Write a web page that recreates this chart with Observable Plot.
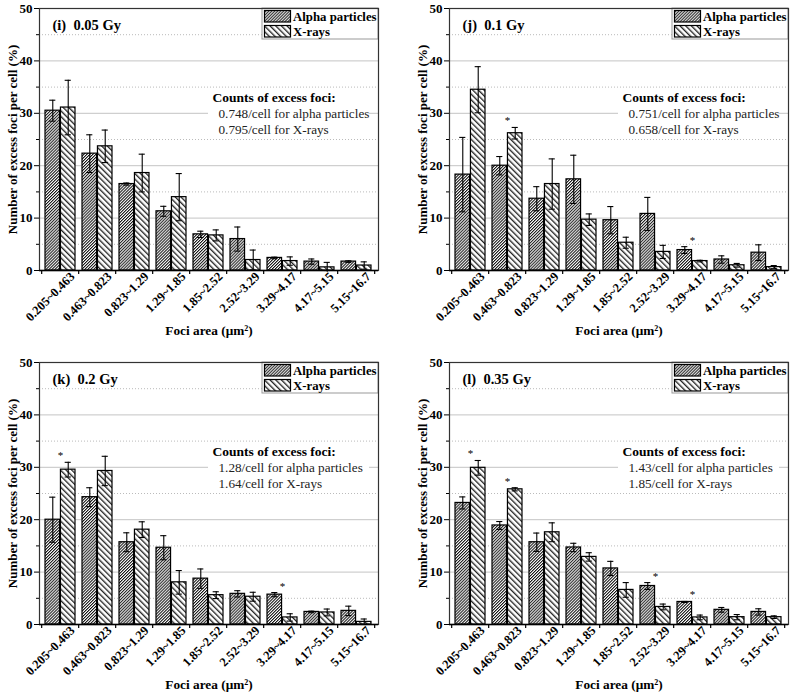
<!DOCTYPE html>
<html><head><meta charset="utf-8">
<script src="https://cdn.jsdelivr.net/npm/d3@7"></script>
<script src="https://cdn.jsdelivr.net/npm/@observablehq/plot@0.6"></script>
<style>
body{margin:0;background:#fff;}
#wrap{position:relative;width:793px;height:694px;overflow:hidden;background:#fff;}
.panel{position:absolute;}
.panel svg{overflow:visible;}
</style></head><body>
<svg width="0" height="0" style="position:absolute">
<defs>
<pattern id="hatchAlpha" patternUnits="userSpaceOnUse" width="2.1" height="10" patternTransform="rotate(45)">
<rect width="2.1" height="10" fill="white"/>
<line x1="0.5" y1="0" x2="0.5" y2="10" stroke="#111" stroke-width="1.05"/>
</pattern>
<pattern id="hatchX" patternUnits="userSpaceOnUse" width="4" height="10" patternTransform="rotate(-45)">
<rect width="4" height="10" fill="white"/>
<line x1="0.7" y1="0" x2="0.7" y2="10" stroke="#111" stroke-width="1.25"/>
</pattern>
</defs>
</svg>
<div id="wrap"></div>
<script>
const seriesNames = ["Alpha particles", "X-rays"];
const categories = ["0.205~0.463","0.463~0.823","0.823~1.29","1.29~1.85","1.85~2.52","2.52~3.29","3.29~4.17","4.17~5.15","5.15~16.7"];
const yMajorTicks = [0, 10, 20, 30, 40, 50];
const yMinorTicks = [5, 15, 25, 35, 45];
const yLabel = "Number of excess foci per cell (%)";
const xLabel = "Foci area (\u03bcm\u00b2)";
const countsHeading = "Counts of excess foci:";
const panelTitles = ["(i)\u00a0\u00a00.05 Gy", "(j)\u00a0\u00a00.1 Gy", "(k)\u00a0\u00a00.2 Gy", "(l)\u00a0\u00a00.35 Gy"];
const alphaCounts = ["0.748", "0.751", "1.28", "1.43"];
const xrayCounts = ["0.795", "0.658", "1.64", "1.85"];

// (i) 0.05 Gy
const alpha_i    = [30.5, 22.3, 16.5, 11.3, 6.9, 6.0, 2.4, 1.7, 1.7];
const alphaErr_i = [2.0, 3.6, 0.2, 0.95, 0.6, 2.3, 0.15, 0.5, 0.15];
const xray_i     = [31.1, 23.7, 18.6, 14.0, 6.7, 2.0, 1.8, 0.6, 0.95];
const xrayErr_i  = [5.2, 3.1, 3.6, 4.5, 1.05, 1.9, 0.8, 0.95, 0.7];
const sig_i = [];
// (j) 0.1 Gy
const alpha_j    = [18.3, 20.0, 13.7, 17.4, 9.6, 10.8, 3.9, 2.1, 3.4];
const alphaErr_j = [7.1, 1.75, 2.3, 4.6, 2.6, 3.15, 0.65, 0.7, 1.5];
const xray_j     = [34.5, 26.2, 16.5, 9.7, 5.3, 3.55, 1.8, 1.0, 0.65];
const xrayErr_j  = [4.4, 1.1, 4.8, 1.1, 1.05, 1.25, 0.15, 0.35, 0.3];
const sig_j = ["0.463~0.823", "3.29~4.17"];
// (k) 0.2 Gy
const alpha_k    = [20.0, 24.3, 15.7, 14.65, 8.75, 5.85, 5.7, 2.4, 2.6];
const alphaErr_k = [4.3, 1.8, 1.8, 2.3, 1.85, 0.6, 0.4, 0.15, 0.9];
const xray_k     = [29.55, 29.3, 18.1, 8.05, 5.6, 5.3, 1.35, 2.3, 0.5];
const xrayErr_k  = [1.4, 2.8, 1.5, 2.25, 0.65, 0.85, 0.7, 0.65, 0.55];
const sig_k = ["0.205~0.463", "3.29~4.17"];
// (l) 0.35 Gy
const alpha_l    = [23.2, 18.9, 15.7, 14.7, 10.7, 7.35, 4.3, 2.8, 2.4];
const alphaErr_l = [1.15, 0.75, 1.75, 0.8, 1.35, 0.65, 0.1, 0.45, 0.6];
const xray_l     = [29.9, 25.8, 17.6, 12.9, 6.6, 3.35, 1.35, 1.4, 1.4];
const xrayErr_l  = [1.4, 0.3, 1.8, 0.8, 1.4, 0.55, 0.45, 0.5, 0.25];
const sig_l = ["0.205~0.463", "0.463~0.823", "2.52~3.29", "3.29~4.17"];

const FONT = "'Liberation Serif', 'Times New Roman', serif";
const PI = 0.18;

function boundaryTicks(index, scales, values, dims) {
  const x = scales.x;
  const step = x.step ? x.step() : (x(categories[1]) - x(categories[0]));
  const yb = dims.height - dims.marginBottom;
  const g = d3.create("svg:g");
  for (let i = 0; i <= categories.length; i++) {
    const start = i < categories.length ? x(categories[i]) : x(categories[categories.length - 1]) + step;
    const bx = start - step * PI / 2;
    g.append("line").attr("x1", bx).attr("x2", bx).attr("y1", yb).attr("y2", yb + 4)
      .attr("stroke", "black").attr("stroke-width", 1.2);
  }
  return g.node();
}

function legendMark(index, scales, values, dims) {
  const right = dims.width - dims.marginRight;
  const top = dims.marginTop;
  const bw = 116, bh = 31;
  const g = d3.create("svg:g");
  g.append("rect").attr("x", right - bw).attr("y", top).attr("width", bw).attr("height", bh)
    .attr("fill", "white").attr("stroke", "#999").attr("stroke-width", 1);
  const fills = ["url(#hatchAlpha)", "url(#hatchX)"];
  seriesNames.forEach((name, i) => {
    g.append("rect").attr("x", right - bw + 2.5).attr("y", top + 2.5 + i * 15).attr("width", 26).attr("height", 11.5)
      .attr("fill", fills[i]).attr("stroke", "black").attr("stroke-width", 1.2);
    g.append("text").attr("x", right - bw + 31).attr("y", top + 12.5 + i * 15)
      .attr("text-anchor", "start")
      .attr("font-family", FONT).attr("font-weight", "bold").attr("font-size", 12.8).attr("fill", "black").text(name);
  });
  return g.node();
}

function annotationBox(index, scales, values, dims) {
  const left = dims.marginLeft, top = dims.marginTop;
  return d3.create("svg:rect").attr("x", left + 169).attr("y", top + 81).attr("width", 161).attr("height", 48)
    .attr("fill", "white").node();
}

function makePanel(p) {
  const W = p.width, H = 345, mL = 39, mT = 8, mB = 75;
  const mR = W - mL - 339;
  const step = 339 / categories.length;
  const bw = step * (1 - PI);
  const half = bw / 2;
  const capW = 7;
  const rows = categories.map((c, i) => ({cat: c, alpha: p.alpha[i], aErr: p.alphaErr[i], xray: p.xray[i], xErr: p.xrayErr[i]}));
  const stars = rows.filter(r => p.sig.includes(r.cat)).map(r => ({cat: r.cat, top: Math.max(r.alpha + r.aErr, r.xray + r.xErr)}));
  const line1 = p.alphaCount + "/cell for alpha particles";
  const line2 = p.xrayCount + "/cell for X-rays";
  return Plot.plot({
    width: W, height: H, marginLeft: mL, marginRight: mR, marginTop: mT, marginBottom: mB,
    style: {fontFamily: FONT, background: "white", color: "black", overflow: "visible"},
    x: {domain: categories, paddingInner: PI, paddingOuter: PI / 2, label: null},
    y: {domain: [0, 50], label: null},
    marks: [
      Plot.gridY(yMinorTicks, {stroke: "#bbb", strokeOpacity: 1, strokeDasharray: "1,2"}),
      Plot.gridY(yMajorTicks, {stroke: "#c4c4c4", strokeOpacity: 1}),
      annotationBox,
      Plot.text([countsHeading], {frameAnchor: "top-left", dx: 173, dy: 93, lineAnchor: "bottom", textAnchor: "start", fontSize: 13.5, fontWeight: "bold", fill: "black"}),
      Plot.text([line1], {frameAnchor: "top-left", dx: 179, dy: 109, lineAnchor: "bottom", textAnchor: "start", fontSize: 13.2, fill: "#222"}),
      Plot.text([line2], {frameAnchor: "top-left", dx: 179, dy: 125, lineAnchor: "bottom", textAnchor: "start", fontSize: 13.2, fill: "#222"}),
      Plot.barY(rows, {x: "cat", y: "alpha", fill: "url(#hatchAlpha)", stroke: "black", strokeWidth: 1.2, insetRight: half}),
      Plot.barY(rows, {x: "cat", y: "xray", fill: "url(#hatchX)", stroke: "black", strokeWidth: 1.2, insetLeft: half}),
      Plot.ruleX(rows, {x: "cat", y1: d => d.alpha - d.aErr, y2: d => d.alpha + d.aErr, dx: -bw / 4, stroke: "black", strokeWidth: 1.1}),
      Plot.ruleX(rows, {x: "cat", y1: d => d.xray - d.xErr, y2: d => d.xray + d.xErr, dx: bw / 4, stroke: "black", strokeWidth: 1.1}),
      Plot.tickY(rows, {x: "cat", y: d => d.alpha + d.aErr, insetLeft: bw / 4 - capW / 2, insetRight: 3 * bw / 4 - capW / 2, stroke: "black", strokeWidth: 1.1}),
      Plot.tickY(rows, {x: "cat", y: d => d.alpha - d.aErr, insetLeft: bw / 4 - capW / 2, insetRight: 3 * bw / 4 - capW / 2, stroke: "black", strokeWidth: 1.1}),
      Plot.tickY(rows, {x: "cat", y: d => d.xray + d.xErr, insetLeft: 3 * bw / 4 - capW / 2, insetRight: bw / 4 - capW / 2, stroke: "black", strokeWidth: 1.1}),
      Plot.tickY(rows, {x: "cat", y: d => Math.max(0, d.xray - d.xErr), insetLeft: 3 * bw / 4 - capW / 2, insetRight: bw / 4 - capW / 2, stroke: "black", strokeWidth: 1.1}),
      Plot.text(stars, {x: "cat", y: "top", text: () => "*", dy: -3, lineAnchor: "bottom", fontSize: 11, fill: "black"}),
      legendMark,
      Plot.text([p.title], {frameAnchor: "top-left", dx: 13, dy: 21, lineAnchor: "bottom", textAnchor: "start", fontSize: 14.5, fontWeight: "bold", fill: "black"}),
      Plot.frame({stroke: "#333", strokeWidth: 1.2}),
      Plot.ruleY([0], {stroke: "black", strokeWidth: 1.5}),
      Plot.axisY({ticks: yMajorTicks, tickSize: 5, tickPadding: 2, fontSize: 13, fontWeight: "bold", label: null, stroke: "black"}),
      Plot.axisY({ticks: yMinorTicks, tickSize: 3, tickFormat: () => "", label: null, stroke: "black"}),
      Plot.axisX({tickRotate: -45, tickSize: 0, tickPadding: 4, dx: 12, fontSize: 12.6, fontWeight: "bold", label: null}),
      boundaryTicks,
      Plot.text([yLabel], {frameAnchor: "left", dx: -23, rotate: -90, lineAnchor: "bottom", textAnchor: "middle", fontSize: 13, fontWeight: "bold", fill: "black"}),
      Plot.text([xLabel], {frameAnchor: "bottom", dy: 64, lineAnchor: "bottom", textAnchor: "middle", fontSize: 13.3, fontWeight: "bold", fill: "black"})
    ]
  });
}

const panels = [
  {title: panelTitles[0], alpha: alpha_i, alphaErr: alphaErr_i, xray: xray_i, xrayErr: xrayErr_i, sig: sig_i, alphaCount: alphaCounts[0], xrayCount: xrayCounts[0], left: 0, top: 0, width: 400},
  {title: panelTitles[1], alpha: alpha_j, alphaErr: alphaErr_j, xray: xray_j, xrayErr: xrayErr_j, sig: sig_j, alphaCount: alphaCounts[1], xrayCount: xrayCounts[1], left: 410, top: 0, width: 383},
  {title: panelTitles[2], alpha: alpha_k, alphaErr: alphaErr_k, xray: xray_k, xrayErr: xrayErr_k, sig: sig_k, alphaCount: alphaCounts[2], xrayCount: xrayCounts[2], left: 0, top: 354, width: 400},
  {title: panelTitles[3], alpha: alpha_l, alphaErr: alphaErr_l, xray: xray_l, xrayErr: xrayErr_l, sig: sig_l, alphaCount: alphaCounts[3], xrayCount: xrayCounts[3], left: 410, top: 354, width: 383}
];

const wrap = document.getElementById("wrap");
for (const p of panels) {
  const div = document.createElement("div");
  div.className = "panel";
  div.style.left = p.left + "px";
  div.style.top = p.top + "px";
  div.appendChild(makePanel(p));
  wrap.appendChild(div);
}
</script>
</body></html>
